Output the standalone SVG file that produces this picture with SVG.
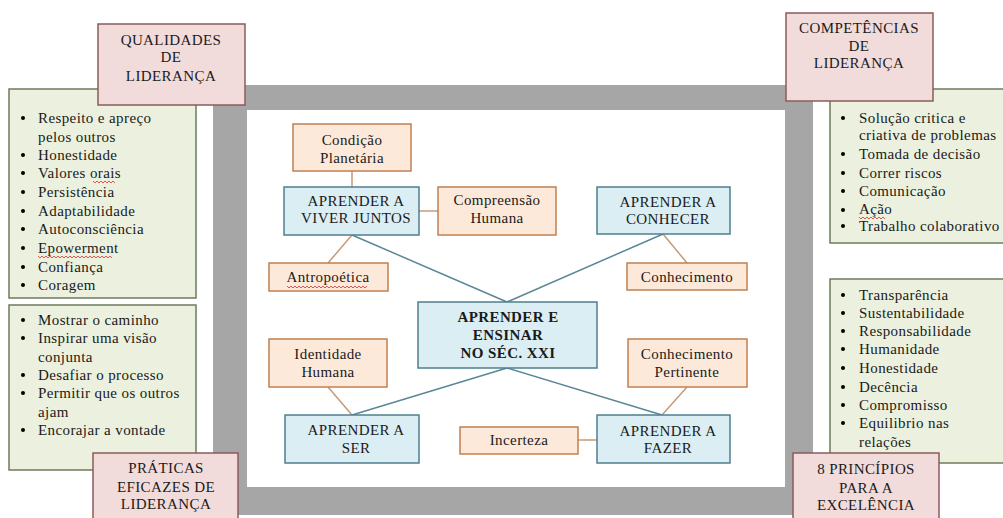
<svg xmlns="http://www.w3.org/2000/svg" width="1003" height="518" viewBox="0 0 1003 518">
<style>
text{font-family:"Times New Roman","Liberation Serif","DejaVu Serif","Noto Serif",Times,serif;font-size:15px;letter-spacing:0.4px;fill:#1a1a1a}
.c{text-anchor:middle}
.b{font-weight:bold}
.pink{fill:#f2dcdb;stroke:#8c5b5b;stroke-width:1.5}
.green{fill:#ebf1de;stroke:#6e7b5c;stroke-width:1.5}
.blue{fill:#daeef3;stroke:#4f7f8e;stroke-width:1.5}
.org{fill:#fde9d9;stroke:#c0804f;stroke-width:1.5}
.lb{stroke:#5a8796;stroke-width:1.5;fill:none}
.lo{stroke:#c49a78;stroke-width:1.5;fill:none}
.sq{stroke:#d03030;stroke-width:0.8;fill:none}
</style>
<rect width="1003" height="518" fill="#ffffff"/>
<g id="frame">
<rect x="213" y="85" width="600" height="430" fill="#a6a6a6"/>
<rect x="247" y="110" width="538" height="377" fill="#ffffff"/>
</g>
<g id="connectors">
<line class="lb" x1="352" y1="235" x2="507" y2="302"/>
<line class="lb" x1="663" y1="234" x2="507" y2="302"/>
<line class="lb" x1="352" y1="415" x2="507" y2="368"/>
<line class="lb" x1="662" y1="415" x2="507" y2="368"/>
<line class="lo" x1="352" y1="171" x2="352" y2="187"/>
<line class="lo" x1="419" y1="211" x2="438" y2="211"/>
<line class="lo" x1="352" y1="235" x2="328" y2="263"/>
<line class="lo" x1="663" y1="234" x2="687" y2="263"/>
<line class="lo" x1="328" y1="387" x2="352" y2="415"/>
<line class="lo" x1="687" y1="387" x2="662" y2="415"/>
<line class="lo" x1="578" y1="440" x2="597" y2="440"/>
</g>
<g id="qualidades-list">
<rect class="green" x="9" y="89" width="187" height="209"/>
<g>
<circle cx="23" cy="118" r="2"/><text x="38" y="123">Respeito e apreço</text>
<text x="38" y="142">pelos outros</text>
<circle cx="23" cy="155" r="2"/><text x="38" y="160">Honestidade</text>
<circle cx="23" cy="173" r="2"/><text x="38" y="178">Valores orais</text>
<circle cx="23" cy="192" r="2"/><text x="38" y="197">Persistência</text>
<circle cx="23" cy="211" r="2"/><text x="38" y="216">Adaptabilidade</text>
<circle cx="23" cy="229" r="2"/><text x="38" y="234">Autoconsciência</text>
<circle cx="23" cy="248" r="2"/><text x="38" y="253">Epowerment</text>
<circle cx="23" cy="267" r="2"/><text x="38" y="272">Confiança</text>
<circle cx="23" cy="285" r="2"/><text x="38" y="290">Coragem</text>
</g>
<path class="sq" d="M93 181 l2 2 l2 -2 l2 2 l2 -2 l2 2 l2 -2 l2 2 l2 -2 l2 2 l2 -2 l2 2"/>
<path class="sq" d="M38 256 l2 2 l2 -2 l2 2 l2 -2 l2 2 l2 -2 l2 2 l2 -2 l2 2 l2 -2 l2 2 l2 -2 l2 2 l2 -2 l2 2 l2 -2 l2 2 l2 -2 l2 2 l2 -2 l2 2 l2 -2 l2 2 l2 -2 l2 2 l2 -2 l2 2 l2 -2 l2 2 l2 -2 l2 2 l2 -2 l2 2 l2 -2 l2 2 l2 -2 l2 2"/>
</g>
<g id="qualidades">
<rect class="pink" x="98" y="24" width="147" height="81"/>
<text class="c" x="171" y="45">QUALIDADES</text>
<text class="c" x="171" y="62">DE</text>
<text class="c" x="171" y="81">LIDERANÇA</text>
</g>
<g id="praticas-list">
<rect class="green" x="9" y="305" width="187" height="165"/>
<circle cx="23" cy="320" r="2"/><text x="38" y="325">Mostrar o caminho</text>
<circle cx="23" cy="338" r="2"/><text x="38" y="343">Inspirar uma visão</text>
<text x="38" y="362">conjunta</text>
<circle cx="23" cy="375" r="2"/><text x="38" y="380">Desafiar o processo</text>
<circle cx="23" cy="393" r="2"/><text x="38" y="398">Permitir que os outros</text>
<text x="38" y="417">ajam</text>
<circle cx="23" cy="430" r="2"/><text x="38" y="435">Encorajar a vontade</text>
</g>
<g id="praticas">
<rect class="pink" x="93" y="453" width="145" height="70"/>
<text class="c" x="166" y="473">PRÁTICAS</text>
<text class="c" x="166" y="492">EFICAZES DE</text>
<text class="c" x="166" y="509">LIDERANÇA</text>
</g>
<g id="competencias-list">
<rect class="green" x="830" y="89" width="180" height="154"/>
<circle cx="843" cy="118" r="2"/><text x="859" y="123">Solução critica e</text>
<text x="859" y="140">criativa de problemas</text>
<circle cx="843" cy="154" r="2"/><text x="859" y="159">Tomada de decisão</text>
<circle cx="843" cy="173" r="2"/><text x="859" y="178">Correr riscos</text>
<circle cx="843" cy="191" r="2"/><text x="859" y="196">Comunicação</text>
<circle cx="843" cy="210" r="2"/><text x="859" y="214">Ação</text>
<circle cx="843" cy="226" r="2"/><text x="859" y="231">Trabalho colaborativo</text>
<path class="sq" d="M859 217 l2 2 l2 -2 l2 2 l2 -2 l2 2 l2 -2 l2 2 l2 -2 l2 2 l2 -2 l2 2 l2 -2 l2 2"/>
</g>
<g id="competencias">
<rect class="pink" x="786" y="13" width="147" height="88"/>
<text class="c" x="859" y="33">COMPETÊNCIAS</text>
<text class="c" x="859" y="51">DE</text>
<text class="c" x="859" y="68">LIDERANÇA</text>
</g>
<g id="principios-list">
<rect class="green" x="830" y="279" width="180" height="184"/>
<circle cx="843" cy="295" r="2"/><text x="859" y="300">Transparência</text>
<circle cx="843" cy="313" r="2"/><text x="859" y="318">Sustentabilidade</text>
<circle cx="843" cy="331" r="2"/><text x="859" y="336">Responsabilidade</text>
<circle cx="843" cy="349" r="2"/><text x="859" y="354">Humanidade</text>
<circle cx="843" cy="368" r="2"/><text x="859" y="373">Honestidade</text>
<circle cx="843" cy="387" r="2"/><text x="859" y="392">Decência</text>
<circle cx="843" cy="405" r="2"/><text x="859" y="410">Compromisso</text>
<circle cx="843" cy="423" r="2"/><text x="859" y="428">Equilibrio nas</text>
<text x="859" y="447">relações</text>
</g>
<g id="principios">
<rect class="pink" x="793" y="453" width="146" height="70"/>
<text class="c" x="866" y="474">8 PRINCÍPIOS</text>
<text class="c" x="866" y="493">PARA A</text>
<text class="c" x="866" y="510">EXCELÊNCIA</text>
</g>
<g id="condicao">
<rect class="org" x="293" y="124" width="118" height="47"/>
<text class="c" x="352" y="145">Condição</text>
<text class="c" x="352" y="163">Planetária</text>
</g>
<g id="viver">
<rect class="blue" x="284" y="187" width="135" height="48"/>
<text class="c" x="356" y="206">APRENDER  A</text>
<text class="c" x="356" y="223">VIVER JUNTOS</text>
</g>
<g id="compreensao">
<rect class="org" x="438" y="187" width="118" height="48"/>
<text class="c" x="497" y="205">Compreensão</text>
<text class="c" x="497" y="223">Humana</text>
</g>
<g id="antropoetica">
<rect class="org" x="269" y="263" width="119" height="28"/>
<text class="c" x="328" y="282">Antropoética</text>
<path class="sq" d="M287 286 l2 2 l2 -2 l2 2 l2 -2 l2 2 l2 -2 l2 2 l2 -2 l2 2 l2 -2 l2 2 l2 -2 l2 2 l2 -2 l2 2 l2 -2 l2 2 l2 -2 l2 2 l2 -2 l2 2 l2 -2 l2 2 l2 -2 l2 2 l2 -2 l2 2 l2 -2 l2 2 l2 -2 l2 2 l2 -2 l2 2 l2 -2 l2 2 l2 -2 l2 2 l2 -2 l2 2 l2 -2"/>
</g>
<g id="conhecer">
<rect class="blue" x="597" y="187" width="133" height="47"/>
<text class="c" x="668" y="207">APRENDER  A</text>
<text class="c" x="668" y="224">CONHECER</text>
</g>
<g id="conhecimento">
<rect class="org" x="627" y="263" width="120" height="27"/>
<text class="c" x="687" y="282">Conhecimento</text>
</g>
<g id="centro">
<rect class="blue" x="418" y="302" width="179" height="66"/>
<text class="c b" x="508" y="322">APRENDER E</text>
<text class="c b" x="508" y="340">ENSINAR</text>
<text class="c b" x="508" y="358">NO SÉC. XXI</text>
</g>
<g id="identidade">
<rect class="org" x="269" y="339" width="118" height="48"/>
<text class="c" x="328" y="359">Identidade</text>
<text class="c" x="328" y="377">Humana</text>
</g>
<g id="pertinente">
<rect class="org" x="628" y="339" width="119" height="48"/>
<text class="c" x="687" y="359">Conhecimento</text>
<text class="c" x="687" y="377">Pertinente</text>
</g>
<g id="ser">
<rect class="blue" x="285" y="415" width="134" height="48"/>
<text class="c" x="356" y="435">APRENDER  A</text>
<text class="c" x="356" y="453">SER</text>
</g>
<g id="incerteza">
<rect class="org" x="460" y="427" width="118" height="27"/>
<text class="c" x="519" y="445">Incerteza</text>
</g>
<g id="fazer">
<rect class="blue" x="597" y="415" width="133" height="48"/>
<text class="c" x="668" y="436">APRENDER  A</text>
<text class="c" x="668" y="453">FAZER</text>
</g>
</svg>
